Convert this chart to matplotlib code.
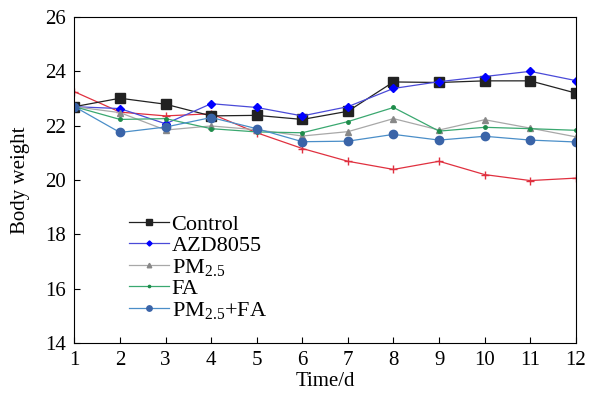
import matplotlib
matplotlib.use("Agg")
import matplotlib.pyplot as plt

plt.rcParams["font.family"] = ["Liberation Serif", "DejaVu Serif"]
plt.rcParams["mathtext.fontset"] = "custom"
plt.rcParams["mathtext.rm"] = "Liberation Serif"
plt.rcParams["mathtext.it"] = "Liberation Serif:italic"

days = [1, 2, 3, 4, 5, 6, 7, 8, 9, 10, 11, 12]
control = [22.70, 23.01, 22.79, 22.36, 22.38, 22.23, 22.53, 23.61, 23.59, 23.65, 23.65, 23.20]
azd8055 = [22.70, 22.63, 22.07, 22.81, 22.67, 22.36, 22.70, 23.37, 23.62, 23.81, 24.00, 23.66]
pm25 = [22.70, 22.48, 21.84, 21.99, 21.85, 21.62, 21.78, 22.26, 21.84, 22.22, 21.91, 21.59]
fa = [22.70, 22.23, 22.26, 21.89, 21.77, 21.74, 22.15, 22.67, 21.80, 21.94, 21.89, 21.83]
pm25_fa = [22.70, 21.75, 21.95, 22.30, 21.89, 21.41, 21.43, 21.68, 21.47, 21.61, 21.47, 21.40]
other = [23.25, 22.50, 22.36, 22.44, 21.74, 21.16, 20.69, 20.39, 20.69, 20.20, 19.98, 20.07]

fig = plt.figure(figsize=(5.93, 4.05), dpi=100)
ax = fig.add_axes([0.1255, 0.153, 0.8455, 0.805])

ax.plot(days, other, color="#e0303f", lw=0.9, marker="+", ms=6, mew=1.0)
ax.plot(days, control, color="#222222", lw=0.9, marker="s", ms=6.5, label="Control")
ax.plot(days, azd8055, color="#4a4ad8", lw=0.9, marker="D", ms=4, mfc="#0000ff", mec="#0000ff",
        label="AZD8055")
ax.plot(days, pm25, color="#a8a8a8", lw=0.9, marker="^", ms=5, mfc="#888888", mec="#888888",
        label=r"PM$_{\mathregular{2.5}}$")
ax.plot(days, fa, color="#3aa870", lw=0.9, marker="o", ms=2.5, mfc="#1e8c4a", mec="#1e8c4a",
        label="FA")
ax.plot(days, pm25_fa, color="#4a8ec8", lw=0.9, marker="o", ms=6, mfc="#3a64a8", mec="#3a64a8",
        label=r"PM$_{\mathregular{2.5}}$+FA")

ax.set_xlim(1, 12)
ax.set_ylim(14, 26)
ax.set_xticks(days)
ax.set_yticks([14, 16, 18, 20, 22, 24, 26])
ax.tick_params(direction="in", labelsize=15, length=4, width=0.8, pad=6)
for s in ax.spines.values():
    s.set_linewidth(0.8)
ax.set_xlabel("Time/d", fontsize=15, labelpad=1)
ax.set_ylabel("Body weight", fontsize=15, labelpad=11)

ax.legend(loc="lower left", bbox_to_anchor=(0.083, 0.028), frameon=False, fontsize=16,
          handlelength=1.8, labelspacing=0.03, handletextpad=0.1, borderpad=0.1,
          markerscale=0.65)

fig.savefig("out.png", dpi=100)
